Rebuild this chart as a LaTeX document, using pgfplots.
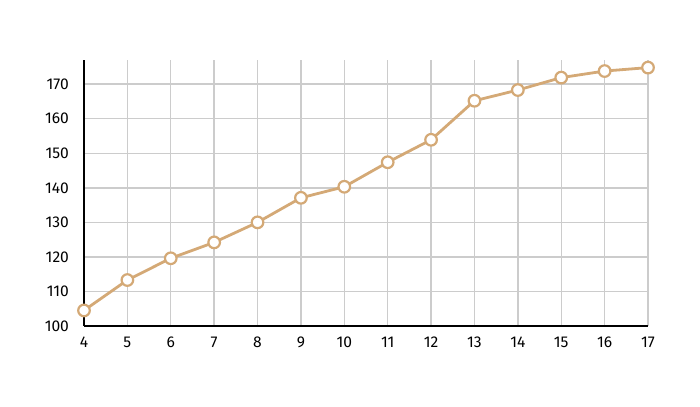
\documentclass[border=0pt]{standalone}
\usepackage{pgfplots}
\pgfplotsset{compat=1.18}
\usepackage{fontspec}
\setmainfont{Fira Sans}
\definecolor{lineTan}{HTML}{D4A976}
\definecolor{gridGray}{HTML}{CCCCCC}

\begin{document}
\begin{tikzpicture}
\begin{axis}[
  name=main,
  scale only axis,
  width=282pt, height=133pt,
  xmin=4, xmax=17,
  ymin=100, ymax=177,
  xtick={4,...,17},
  ytick={100,110,...,170},
  axis lines=left,
  axis line style={-, black, line width=1pt},
  major tick length=0pt,
  grid=major,
  grid style={gridGray, line width=0.7pt},
  /pgf/number format/assume math mode=true,
  tick label style={font=\fontsize{7.8}{9}\selectfont},
  yticklabel style={xshift=-4pt},
  xticklabel style={yshift=-2pt},
  clip=false,
]
  \addplot[lineTan, line width=1.4pt, mark=*, mark size=2.9pt,
    mark options={fill=white, draw=lineTan, line width=1.1pt}] coordinates {
    (4,104.5) (5,113.3) (6,119.6) (7,124.2) (8,130.0) (9,137.1) (10,140.3)
    (11,147.4) (12,153.9) (13,165.2) (14,168.3) (15,171.9) (16,173.8) (17,174.8)
  };
\end{axis}
\path ([xshift=-42pt,yshift=-40.5pt]main.south west) rectangle ([xshift=26pt,yshift=30pt]main.north east);
\end{tikzpicture}
\end{document}
